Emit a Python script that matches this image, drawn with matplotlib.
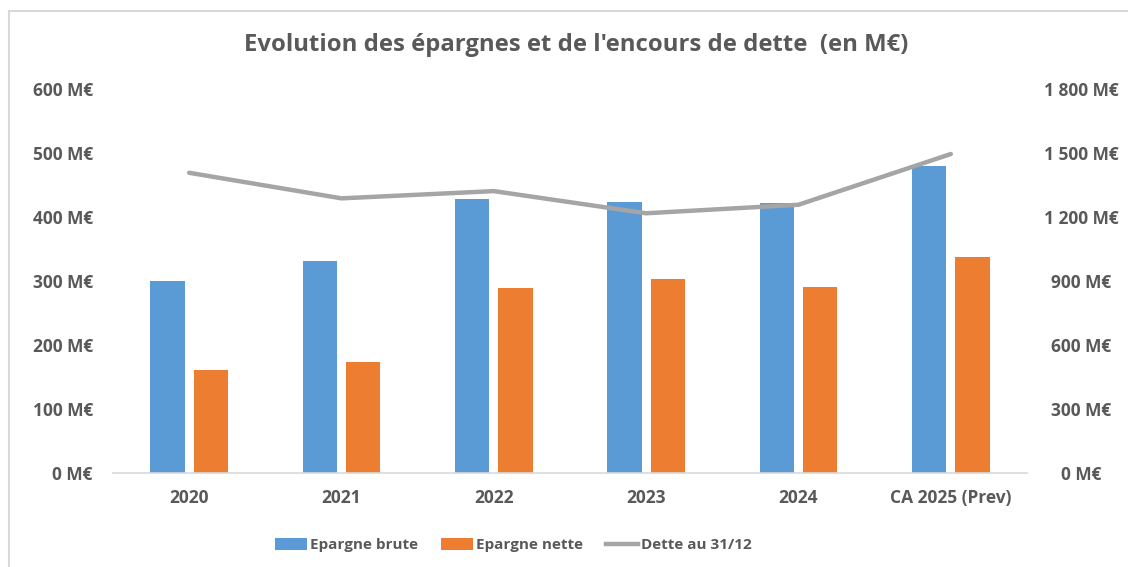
import matplotlib
matplotlib.use("Agg")
import matplotlib.pyplot as plt
from matplotlib.lines import Line2D
from matplotlib.patches import Patch
import numpy as np

categories = ["2020", "2021", "2022", "2023", "2024", "CA 2025 (Prev)"]
epargne_brute = [299, 331, 428, 424, 421, 480]
epargne_nette = [160, 173, 289, 303, 291, 337]
dette = [1407, 1287, 1321, 1217, 1257, 1495]
left_ticks = [0, 100, 200, 300, 400, 500, 600]
right_ticks = [0, 300, 600, 900, 1200, 1500, 1800]

TXT = "#595959"
BLUE = "#5B9BD5"
ORANGE = "#ED7D31"
GRAY = "#A5A5A5"
FONT = "Open Sans"

plt.rcParams['font.family'] = [FONT, 'DejaVu Sans']

fig = plt.figure(figsize=(11.28, 5.67), dpi=100)
ax = fig.add_axes([113/1128, 1 - 472.7/567, 914/1128, 383.7/567])

x = np.arange(len(categories))
w = 0.224
off = 0.142
ax.bar(x - off, epargne_brute, w, color=BLUE, zorder=2)
ax.bar(x + off, epargne_nette, w, color=ORANGE, zorder=2)
ax.set_xlim(-0.5, len(categories) - 0.5)
ax.set_ylim(0, 600)
ax.set_yticks(left_ticks)
ax.set_yticklabels([f"{v} M€" for v in left_ticks])
ax.set_xticks(x)
ax.set_xticklabels(categories)

ax2 = ax.twinx()
ax2.plot(x, dette, color=GRAY, lw=3.2, solid_capstyle='round', zorder=3)
ax2.set_ylim(0, 1800)
ax2.set_yticks(right_ticks)
ax2.set_yticklabels([f"{v:,} M€".replace(",", " ") for v in right_ticks])

for a in (ax, ax2):
    for s in a.spines.values():
        s.set_visible(False)
ax.spines['bottom'].set_visible(True)
ax.spines['bottom'].set_color("#D9D9D9")
ax.spines['bottom'].set_linewidth(1.2)

TS = 12.5
ax.tick_params(axis='y', length=0, pad=14.4, labelsize=TS, labelcolor=TXT)
ax.tick_params(axis='x', length=0, pad=12, labelsize=TS, labelcolor=TXT)
ax2.tick_params(axis='y', length=0, pad=39, labelsize=TS, labelcolor=TXT)
for t in ax.get_yticklabels() + ax.get_xticklabels() + ax2.get_yticklabels():
    t.set_fontweight('bold')
for t in ax2.get_yticklabels():
    t.set_horizontalalignment('center')

fig.text(576/1128, 1 - 45/567, "Evolution des épargnes et de l'encours de dette  (en M€)",
         ha='center', va='center', fontsize=17.2, fontweight='bold', color=TXT)

handles = [Patch(facecolor=BLUE, edgecolor='none'),
           Patch(facecolor=ORANGE, edgecolor='none'),
           Line2D([0], [0], color=GRAY, lw=3.2)]
labels = ["Epargne brute", "Epargne nette", "Dette au 31/12"]
leg = fig.legend(handles, labels, loc='center', bbox_to_anchor=(513/1128, 1 - 545/567),
                 ncol=3, frameon=False, handlelength=2.1, handleheight=0.8, handletextpad=0.2,
                 columnspacing=1.5, prop={'family': FONT, 'weight': 'bold', 'size': 11})
for t in leg.get_texts():
    t.set_color(TXT)

# chart border (left and top visible)
fig.add_artist(Line2D([8.5/1128, 8.5/1128], [0, 1 - 11/567], color="#D9D9D9", lw=1.5))
fig.add_artist(Line2D([8.5/1128, 1], [1 - 11/567, 1 - 11/567], color="#D9D9D9", lw=1.5))

fig.savefig("out.png", dpi=100)
